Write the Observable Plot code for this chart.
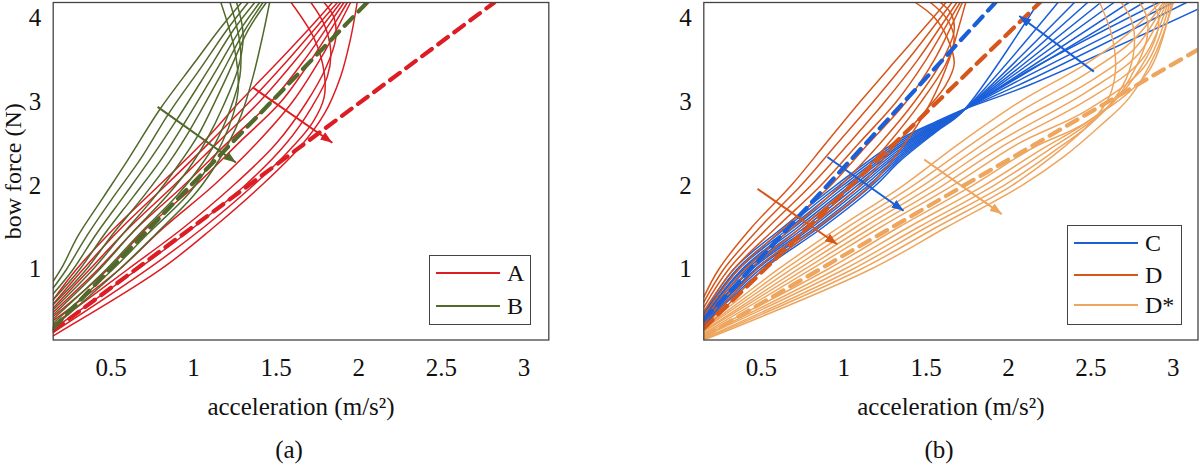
<!DOCTYPE html>
<html><head><meta charset="utf-8">
<script src="https://cdn.jsdelivr.net/npm/d3@7"></script>
<script src="https://cdn.jsdelivr.net/npm/@observablehq/plot@0.6"></script>
<style>
body{margin:0;background:#fff;width:1200px;height:466px;position:relative;overflow:hidden;font-family:"Liberation Serif",serif;color:#111}
.pane{position:absolute;top:0}
.legend{position:absolute;border:1.5px solid #444;background:#fff;box-sizing:border-box}
.row{position:absolute;height:0}
.sw{position:absolute;left:0;top:-1px;width:64px;height:0;border-top:2px solid}
.lab{position:absolute;top:-14px;font-size:24px;line-height:28px}
.cap{position:absolute;font-size:25px;transform:translate(-50%,-50%)}
</style></head><body>
<div id="pa" class="pane" style="left:0"></div>
<div id="pb" class="pane" style="left:620px"></div>
<div id="la" class="legend" style="left:429px;top:255px;width:102px;height:70px"></div>
<div id="lb" class="legend" style="left:1067px;top:225px;width:115px;height:100px"></div>
<div class="cap" style="left:289px;top:450px">(a)</div>
<div class="cap" style="left:939px;top:450px">(b)</div>
<script>
// ---------- axes ----------
const xTicks = [0.5, 1, 1.5, 2, 2.5, 3];
const yTicks = [1, 2, 3, 4];
const xDomain = [0.15, 3.15];
const yDomain = [0.16, 4.18];
const xLabel = "acceleration (m/s²)";
const yLabel = "bow force (N)";

// ---------- series names & colours ----------
const namesA = ["A", "B"];
const namesB = ["C", "D", "D*"];
const colRed = "#dc1e24", colGreen = "#51692b", colBlue = "#1b5fd8", colDark = "#d6561c", colLight = "#eea55e";

// ---------- panel (a): family A (red) ----------
const curvesA = [
  [[0.15,0.64],[0.29,1.0],[0.5,1.45],[0.79,2.0],[1.05,2.5],[1.28,3.0],[1.5,3.45],[1.7,3.87],[1.84,4.18]],
  [[0.15,0.59],[0.33,1.0],[0.55,1.47],[0.83,2.0],[1.1,2.52],[1.34,3.0],[1.56,3.47],[1.74,3.88],[1.87,4.18]],
  [[0.15,0.54],[0.37,1.0],[0.6,1.48],[0.88,2.0],[1.15,2.52],[1.40,3.0],[1.62,3.5],[1.78,3.9],[1.89,4.18]],
  [[0.15,0.49],[0.42,1.0],[0.66,1.5],[0.94,2.0],[1.21,2.52],[1.47,3.0],[1.68,3.52],[1.82,3.92],[1.91,4.18]],
  [[0.15,0.44],[0.48,1.0],[0.72,1.5],[1.01,2.0],[1.28,2.52],[1.53,3.0],[1.73,3.55],[1.86,3.95],[1.93,4.18]],
  [[0.15,0.39],[0.55,1.0],[0.82,1.5],[1.12,2.0],[1.38,2.5],[1.6,3.0],[1.78,3.55],[1.89,3.95],[1.95,4.18]],
  [[0.15,0.34],[0.6,1.0],[0.94,1.5],[1.24,2.0],[1.5,2.5],[1.68,2.98],[1.80,3.4],[1.86,3.75],[1.85,4.0],[1.79,4.18]],
  [[0.15,0.29],[0.66,1.0],[1.0,1.5],[1.31,2.0],[1.56,2.5],[1.72,2.95],[1.81,3.3],[1.83,3.6],[1.79,3.92],[1.71,4.18]],
  [[0.15,0.25],[0.72,1.0],[1.06,1.5],[1.36,2.0],[1.58,2.42],[1.72,2.75],[1.79,3.05],[1.79,3.35],[1.73,3.75],[1.59,4.18]],
  [[0.15,0.21],[0.8,1.0],[1.12,1.5],[1.41,2.0],[1.64,2.45],[1.79,2.85],[1.89,3.3],[1.95,3.75],[1.99,4.18]]
];
// ---------- panel (a): family B (green) ----------
const curvesB = [
  [[0.15,0.86],[0.21,1.05],[0.3,1.4],[0.45,1.85],[0.6,2.3],[0.8,2.92],[1.0,3.45],[1.16,3.87],[1.29,4.18]],
  [[0.15,0.78],[0.23,1.0],[0.36,1.42],[0.52,1.88],[0.68,2.32],[0.85,2.86],[1.05,3.42],[1.2,3.85],[1.33,4.18]],
  [[0.15,0.71],[0.27,1.0],[0.41,1.42],[0.58,1.88],[0.74,2.32],[0.9,2.79],[1.09,3.38],[1.24,3.85],[1.37,4.18]],
  [[0.15,0.64],[0.31,1.0],[0.46,1.42],[0.64,1.88],[0.8,2.3],[0.94,2.73],[1.13,3.35],[1.28,3.85],[1.40,4.18]],
  [[0.15,0.58],[0.35,1.0],[0.51,1.42],[0.7,1.88],[0.86,2.3],[0.98,2.67],[1.16,3.3],[1.31,3.85],[1.42,4.18]],
  [[0.15,0.52],[0.39,1.0],[0.57,1.42],[0.77,1.88],[0.92,2.28],[1.03,2.61],[1.19,3.25],[1.33,3.85],[1.44,4.18]],
  [[0.15,0.46],[0.43,1.0],[0.62,1.42],[0.84,1.88],[0.97,2.2],[1.08,2.55],[1.18,2.95],[1.27,3.4],[1.3,3.8],[1.26,4.18]],
  [[0.15,0.41],[0.47,1.0],[0.67,1.42],[0.9,1.88],[1.03,2.2],[1.13,2.5],[1.22,2.9],[1.28,3.3],[1.28,3.7],[1.22,4.18]],
  [[0.15,0.36],[0.51,1.0],[0.72,1.42],[0.96,1.88],[1.08,2.2],[1.17,2.5],[1.24,2.85],[1.27,3.15],[1.25,3.6],[1.165,4.18]],
  [[0.15,0.31],[0.55,1.0],[0.77,1.42],[1.0,1.88],[1.12,2.2],[1.21,2.5],[1.29,2.85],[1.36,3.3],[1.42,3.8],[1.46,4.18]]
];
const dashedA = [[0.15,0.27],[2.82,4.18]];
const dashedB = [[0.15,0.30],[2.05,4.18]];
const arrowA = [[1.357,3.17],[1.84,2.51]];
const arrowB = [[0.782,2.937],[1.256,2.274]];

// ---------- panel (b): family C (blue) ----------
const curvesC = [
  [[0.15,0.47],[0.33,1.0],[0.63,1.5],[0.95,2.0],[1.34,2.55],[1.56,2.76],[1.72,2.90],[2.13,3.2],[3.15,4.10]],
  [[0.15,0.46],[0.35,1.0],[0.652,1.5],[0.972,2.0],[1.34,2.526],[1.56,2.749],[1.72,2.898],[2.13,3.26],[3.08,4.18]],
  [[0.15,0.45],[0.36,1.0],[0.674,1.5],[0.994,2.0],[1.34,2.503],[1.56,2.738],[1.72,2.896],[2.13,3.32],[3.0,4.18]],
  [[0.15,0.43],[0.38,1.0],[0.696,1.5],[1.016,2.0],[1.34,2.479],[1.56,2.727],[1.72,2.894],[2.13,3.38],[2.91,4.18]],
  [[0.15,0.42],[0.39,1.0],[0.718,1.5],[1.038,2.0],[1.34,2.456],[1.56,2.716],[1.72,2.892],[2.82,4.18]],
  [[0.15,0.41],[0.41,1.0],[0.74,1.5],[1.06,2.0],[1.34,2.432],[1.56,2.705],[1.72,2.89],[2.73,4.18]],
  [[0.15,0.40],[0.43,1.0],[0.762,1.5],[1.082,2.0],[1.34,2.408],[1.56,2.694],[1.72,2.888],[2.64,4.18]],
  [[0.15,0.39],[0.44,1.0],[0.784,1.5],[1.104,2.0],[1.34,2.385],[1.56,2.683],[1.72,2.886],[2.56,4.18]],
  [[0.15,0.37],[0.46,1.0],[0.806,1.5],[1.126,2.0],[1.34,2.361],[1.56,2.672],[1.72,2.884],[2.48,4.18]],
  [[0.15,0.36],[0.47,1.0],[0.828,1.5],[1.148,2.0],[1.34,2.338],[1.56,2.661],[1.72,2.882],[2.40,4.18]],
  [[0.15,0.35],[0.49,1.0],[0.85,1.5],[1.17,2.0],[1.34,2.314],[1.56,2.65],[1.72,2.88],[2.30,4.18]],
  [[0.15,0.34],[0.51,1.0],[0.872,1.5],[1.192,2.0],[1.34,2.29],[1.56,2.639],[1.72,2.878],[2.18,4.18]]
];
// ---------- panel (b): family D (dark orange) ----------
const curvesD = [
  [[0.15,0.67],[0.24,1.0],[0.44,1.5],[0.68,2.0],[0.89,2.5],[1.1,3.0],[1.32,3.5],[1.52,3.95],[1.62,4.18]],
  [[0.15,0.61],[0.27,1.0],[0.49,1.5],[0.74,2.0],[0.96,2.5],[1.18,3.0],[1.39,3.5],[1.56,3.93],[1.656,4.18]],
  [[0.15,0.55],[0.3,1.0],[0.54,1.5],[0.8,2.0],[1.03,2.5],[1.25,3.0],[1.45,3.5],[1.6,3.93],[1.686,4.18]],
  [[0.15,0.5],[0.33,1.0],[0.59,1.5],[0.86,2.0],[1.09,2.5],[1.32,3.0],[1.5,3.5],[1.63,3.93],[1.706,4.18]],
  [[0.15,0.45],[0.36,1.0],[0.64,1.5],[0.92,2.0],[1.15,2.5],[1.38,3.0],[1.55,3.5],[1.66,3.93],[1.72,4.18]],
  [[0.15,0.40],[0.40,1.0],[0.69,1.5],[0.98,2.0],[1.22,2.5],[1.43,3.0],[1.6,3.5],[1.67,3.85],[1.65,4.05],[1.586,4.18]],
  [[0.15,0.35],[0.43,1.0],[0.74,1.5],[1.04,2.0],[1.27,2.5],[1.47,3.0],[1.62,3.45],[1.67,3.75],[1.62,4.0],[1.525,4.18]],
  [[0.15,0.30],[0.47,1.0],[0.79,1.5],[1.10,2.0],[1.32,2.5],[1.5,2.9],[1.62,3.2],[1.67,3.45],[1.63,3.75],[1.55,4.0],[1.434,4.18]],
  [[0.15,0.26],[0.51,1.0],[0.84,1.5],[1.16,2.0],[1.37,2.5],[1.53,3.0],[1.64,3.5],[1.7,3.9],[1.74,4.18]]
];
// ---------- panel (b): family D* (light orange) ----------
const curvesE = [
  [[0.15,0.32],[0.60,1.0],[0.97,1.5],[1.36,2.0],[1.70,2.5],[2.07,3.0],[2.47,3.45],[2.72,3.8],[2.92,4.18]],
  [[0.15,0.30],[0.64,1.0],[1.02,1.5],[1.42,2.0],[1.78,2.5],[2.07,2.88],[2.47,3.33],[2.75,3.72],[2.94,4.18]],
  [[0.15,0.29],[0.68,1.0],[1.07,1.5],[1.48,2.0],[1.85,2.5],[2.07,2.78],[2.47,3.21],[2.77,3.64],[2.95,4.18]],
  [[0.15,0.27],[0.72,1.0],[1.12,1.5],[1.54,2.0],[1.92,2.5],[2.47,3.11],[2.79,3.57],[2.96,4.18]],
  [[0.15,0.26],[0.76,1.0],[1.17,1.5],[1.60,2.0],[1.99,2.5],[2.47,3.01],[2.81,3.5],[2.97,4.18]],
  [[0.15,0.24],[0.80,1.0],[1.22,1.5],[1.66,2.0],[2.06,2.5],[2.47,2.89],[2.83,3.43],[2.98,4.18]],
  [[0.15,0.23],[0.90,1.0],[1.33,1.5],[1.78,2.0],[2.15,2.45],[2.47,2.75],[2.85,3.36],[2.99,4.18]],
  [[0.15,0.21],[0.95,1.0],[1.39,1.5],[1.85,2.0],[2.2,2.43],[2.45,2.72],[2.64,3.0],[2.8,3.4],[2.9,3.8],[2.91,4.0],[2.876,4.18]],
  [[0.15,0.20],[1.0,1.0],[1.45,1.5],[1.91,2.0],[2.24,2.42],[2.47,2.72],[2.64,3.0],[2.77,3.4],[2.84,3.75],[2.84,4.0],[2.795,4.18]],
  [[0.15,0.18],[1.05,1.0],[1.50,1.5],[1.97,2.0],[2.27,2.4],[2.49,2.72],[2.63,3.0],[2.73,3.35],[2.765,3.75],[2.74,4.0],[2.684,4.18]],
  [[0.15,0.17],[1.10,1.0],[1.56,1.5],[2.02,2.0],[2.3,2.4],[2.5,2.75],[2.61,3.05],[2.65,3.4],[2.625,3.8],[2.553,4.18]],
  [[0.15,0.16],[1.16,1.0],[1.62,1.5],[2.08,2.0],[2.34,2.35],[2.55,2.7],[2.735,3.05],[2.897,3.6],[3.0,4.18]]
];
const dashedC = [[0.15,0.40],[1.92,4.18]];
const dashedD = [[0.15,0.30],[2.19,4.18]];
const dashedE = [[0.15,0.20],[3.15,3.62]];
const arrowC1 = [[0.90,2.34],[1.363,1.70]];
const arrowC2 = [[2.518,3.357],[2.065,4.02]];
const arrowD = [[0.476,1.96],[0.96,1.30]];
const arrowE = [[1.488,2.31],[1.959,1.66]];

// ---------- helpers ----------
const flat = curves => curves.flatMap((c, i) => c.map(([x, y]) => ({x, y, id: i})));
const pts = p => p.map(([x, y]) => ({x, y}));

function panel({width, marginLeft, marginRight, families, dashed, arrows, withYLabel}) {
  const marks = [];
  for (const f of families)
    marks.push(Plot.line(flat(f.curves), {x: "x", y: "y", z: "id", stroke: f.color, strokeWidth: 1.5, curve: "catmull-rom", clip: true}));
  for (const d of dashed)
    marks.push(Plot.line(pts(d.p), {x: "x", y: "y", stroke: d.color, strokeWidth: 4.2, strokeDasharray: "12,8", clip: true}));
  for (const a of arrows)
    marks.push(Plot.link([{x1: a.p[0][0], y1: a.p[0][1], x2: a.p[1][0], y2: a.p[1][1]}],
      {x1: "x1", y1: "y1", x2: "x2", y2: "y2", stroke: a.color, strokeWidth: 2}));
  marks.push(Plot.frame({stroke: "#444", strokeWidth: 1.3}));
  marks.push(Plot.text([xLabel], {frameAnchor: "bottom", dy: 67, lineAnchor: "middle", textAnchor: "middle", fontSize: 25, fill: "#111"}));
  if (withYLabel)
    marks.push(Plot.text([yLabel], {frameAnchor: "left", dx: -39.5, rotate: -90, lineAnchor: "middle", textAnchor: "middle", fontSize: 24, fill: "#111"}));
  const svg = Plot.plot({
    width, height: 430, marginLeft, marginRight, marginTop: 2, marginBottom: 90.5,
    style: {fontFamily: '"Liberation Serif", serif', fontSize: "25px", color: "#111", background: "transparent", overflow: "visible"},
    x: {domain: xDomain, ticks: xTicks, tickSize: 0, tickPadding: 18.5, tickFormat: d => String(d), label: null},
    y: {domain: yDomain, ticks: yTicks, tickSize: 0, tickPadding: 12, tickFormat: d => String(d), label: null},
    marks
  });
  // filled arrowheads
  const s = d3.select(svg);
  const defs = s.insert("defs", ":first-child");
  const seen = {};
  s.selectAll('g[aria-label="link"]').each(function() {
    const g = d3.select(this);
    const color = g.attr("stroke") || g.select("path,line").attr("stroke");
    const id = "head" + width + String(color).replace(/[^a-z0-9]/gi, "");
    if (!seen[id]) {
      seen[id] = true;
      defs.append("marker").attr("id", id).attr("viewBox", "0 0 12 9").attr("refX", 12).attr("refY", 4.5)
        .attr("markerWidth", 12).attr("markerHeight", 9).attr("markerUnits", "userSpaceOnUse").attr("orient", "auto")
        .append("path").attr("d", "M0,0L12,4.5L0,9Z").attr("fill", color);
    }
    g.selectAll("path,line").attr("marker-end", `url(#${id})`);
  });
  return svg;
}

document.getElementById("pa").append(panel({
  width: 560, marginLeft: 52.7, marginRight: 11.7, withYLabel: true,
  families: [{curves: curvesA, color: colRed}, {curves: curvesB, color: colGreen}],
  dashed: [{p: dashedA, color: colRed}, {p: dashedB, color: colGreen}],
  arrows: [{p: arrowA, color: colRed}, {p: arrowB, color: colGreen}]
}));
document.getElementById("pb").append(panel({
  width: 580, marginLeft: 83.3, marginRight: 2.5, withYLabel: false,
  families: [{curves: curvesC, color: colBlue}, {curves: curvesD, color: colDark}, {curves: curvesE, color: colLight}],
  dashed: [{p: dashedC, color: colBlue}, {p: dashedD, color: colDark}, {p: dashedE, color: colLight}],
  arrows: [{p: arrowC1, color: colBlue}, {p: arrowC2, color: colBlue}, {p: arrowD, color: colDark}, {p: arrowE, color: colLight}]
}));

// ---------- legends ----------
function legend(el, names, colors, rowYs) {
  names.forEach((n, i) => {
    const r = document.createElement("div");
    r.className = "row"; r.style.left = "6px"; r.style.top = rowYs[i] + "px";
    r.innerHTML = `<span class="sw" style="border-color:${colors[i]}"></span><span class="lab" style="left:71px">${n}</span>`;
    el.append(r);
  });
}
legend(document.getElementById("la"), namesA, [colRed, colGreen], [17, 50]);
legend(document.getElementById("lb"), namesB, [colBlue, colDark, colLight], [17, 49, 79]);
</script>
</body></html>
